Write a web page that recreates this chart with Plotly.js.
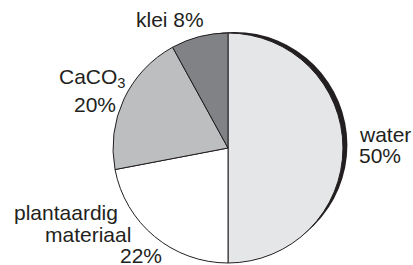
<!DOCTYPE html>
<html>
<head>
<meta charset="utf-8">
<script src="https://cdn.plot.ly/plotly-3.0.1.min.js"></script>
<style>html,body{margin:0;padding:0;background:#fff;}#chart{width:413px;height:265px;}</style>
</head>
<body>
<div id="chart"></div>
<script>
// Data
var categories = ["water", "plantaardig materiaal", "CaCO3", "klei"];
var values = [50, 22, 20, 8];
var colors = ["#e5e6e8", "#ffffff", "#bcbec0", "#808285"];
// label text lines
var labelLines = [
  ["water", "50%"],
  ["plantaardig", "materiaal", "22%"],
  ["CaCO<sub>3</sub>", "20%"],
  ["klei 8%"]
];

var W = 413, H = 265;
function px(x){ return x / W; }
function py(y){ return (H - y) / H; }

// pie geometry (pixels)
var cx = 228, cy = 148, r = 115;

// label positions (left x, middle y in px) per line
var labelPos = [
  [[357, 134], [357, 155]],
  [[12, 212], [43, 234], [118, 255]],
  [[57, 78], [72, 104]],
  [[134, 20]]
];

var annotations = [];
labelLines.forEach(function(lines, i){
  lines.forEach(function(t, j){
    annotations.push({
      text: t, xref: "paper", yref: "paper",
      x: px(labelPos[i][j][0]), y: py(labelPos[i][j][1]),
      xanchor: "left", yanchor: "middle", showarrow: false,
      font: {family: "Liberation Sans, Arial, sans-serif", size: 21, color: "#231f20"}
    });
  });
});

// crescent (shadow) behind the pie
var R = r - 1.8, ox = 6.2, oy = -2.9;
var shapes = [{
  type: "circle", xref: "paper", yref: "paper", layer: "below",
  x0: px(cx + ox - R), x1: px(cx + ox + R),
  y0: py(cy + oy + R), y1: py(cy + oy - R),
  fillcolor: "#231f20", line: {width: 0}
}];

var trace = {
  type: "pie",
  labels: categories,
  values: values,
  sort: false,
  direction: "clockwise",
  rotation: 0,
  textinfo: "none",
  hoverinfo: "none",
  showlegend: false,
  marker: {colors: colors, line: {color: "#231f20", width: 1}},
  domain: {x: [px(cx - r), px(cx + r)], y: [py(cy + r), py(cy - r)]}
};

var layout = {
  width: W, height: H,
  margin: {l: 0, r: 0, t: 0, b: 0},
  paper_bgcolor: "#ffffff",
  showlegend: false,
  annotations: annotations,
  shapes: shapes
};

Plotly.newPlot("chart", [trace], layout, {displayModeBar: false, staticPlot: true});
</script>
</body>
</html>
